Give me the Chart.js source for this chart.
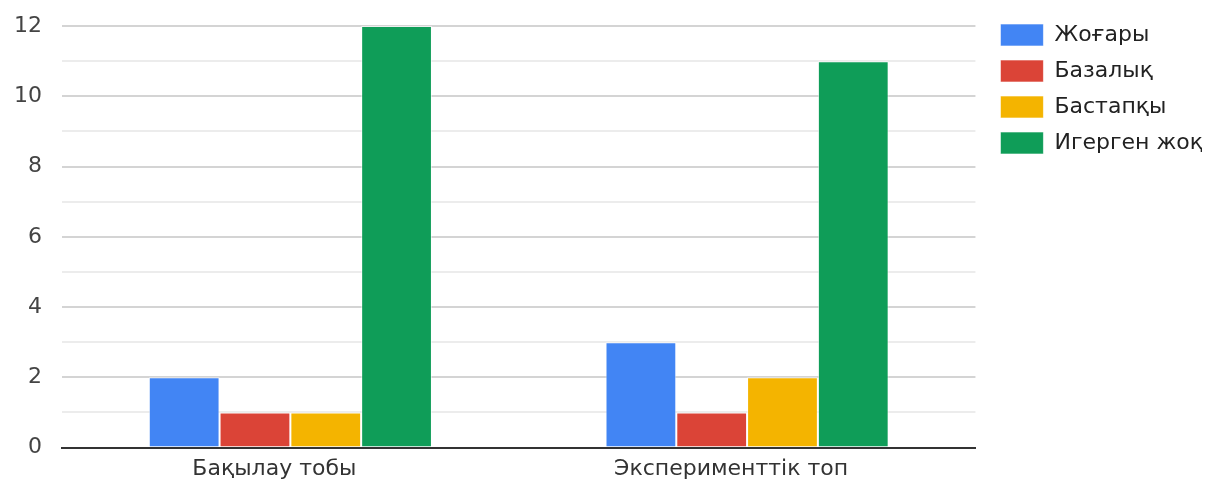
<!DOCTYPE html>
<html>
<head>
<meta charset="utf-8">
<script src="https://cdn.jsdelivr.net/npm/chart.js@4"></script>
<style>
  html, body { margin: 0; padding: 0; background: #fff; }
  #wrap { width: 1207px; height: 484px; }
</style>
</head>
<body>
<div id="wrap"><canvas id="myChart"></canvas></div>
<script>
// категориялар мен мәндер
const toptar = ['Бақылау тобы', 'Эксперименттік топ'];
const dengeyler = ['Жоғары', 'Базалық', 'Бастапқы', 'Игерген жоқ'];
const zhogary = [2, 3];
const bazalyk = [1, 1];
const bastapky = [1, 2];
const igergenZhok = [12, 11];
const yTicks = [0, 2, 4, 6, 8, 10, 12];

const tusder = ['#4285F4', '#DB4437', '#F4B400', '#0F9D58'];
const mander = [zhogary, bazalyk, bastapky, igergenZhok];
const shrift = 'DejaVu Sans';

const datasets = dengeyler.map(function(d, i) {
    return {
        label: d,
        data: mander[i],
        backgroundColor: tusder[i],
        borderColor: 'rgba(255,255,255,0.6)',
        borderWidth: 1,
        categoryPercentage: 0.62,
        barPercentage: 1.0
    };
});

// легенданы графиктен сәл алысырақ жылжыту
const legendShift = {
    id: 'legendShift',
    afterLayout: function(chart) {
        const lg = chart.legend;
        const pad = lg.options.labels.padding;
        lg.left = chart.chartArea.right + 25 - pad;
        lg.top = chart.chartArea.top - 2 - pad;
    }
};

var ctx = document.querySelector('#myChart');
var myChart = new Chart(ctx, {
    type: 'bar',
    data: {
        labels: toptar,
        datasets: datasets
    },
    plugins: [legendShift],
    options: {
        responsive: true,
        maintainAspectRatio: false,
        animation: false,
        layout: {
            autoPadding: false,
            padding: { top: 26, right: 5, bottom: 2, left: 2 }
        },
        plugins: {
            tooltip: { enabled: false },
            legend: {
                position: 'right',
                align: 'start',
                labels: {
                    boxWidth: 43,
                    boxHeight: 22,
                    padding: 14,
                    color: '#222',
                    font: { family: shrift, size: 22 }
                }
            }
        },
        scales: {
            x: {
                grid: { display: false },
                border: { color: '#333', width: 2 },
                ticks: {
                    color: '#333',
                    font: { family: shrift, size: 22 },
                    labelOffset: -16,
                    padding: 0
                }
            },
            y: {
                min: 0,
                max: 12,
                afterFit: function(s) {
                    s.width = 60;
                    s.paddingTop = 0;
                    s.paddingBottom = 0;
                },
                border: { display: false },
                grid: {
                    drawTicks: false,
                    tickLength: 0,
                    lineWidth: 2,
                    color: function(c) {
                        if (c.tick.value === 0) return '#333';
                        return c.tick.value % 2 === 0 ? '#d4d4d4' : '#ececec';
                    }
                },
                ticks: {
                    stepSize: 1,
                    padding: 20,
                    color: '#444',
                    font: { family: shrift, size: 22 },
                    callback: function(v) {
                        return yTicks.indexOf(v) >= 0 ? v : '';
                    }
                }
            }
        }
    }
});
</script>
</body>
</html>
